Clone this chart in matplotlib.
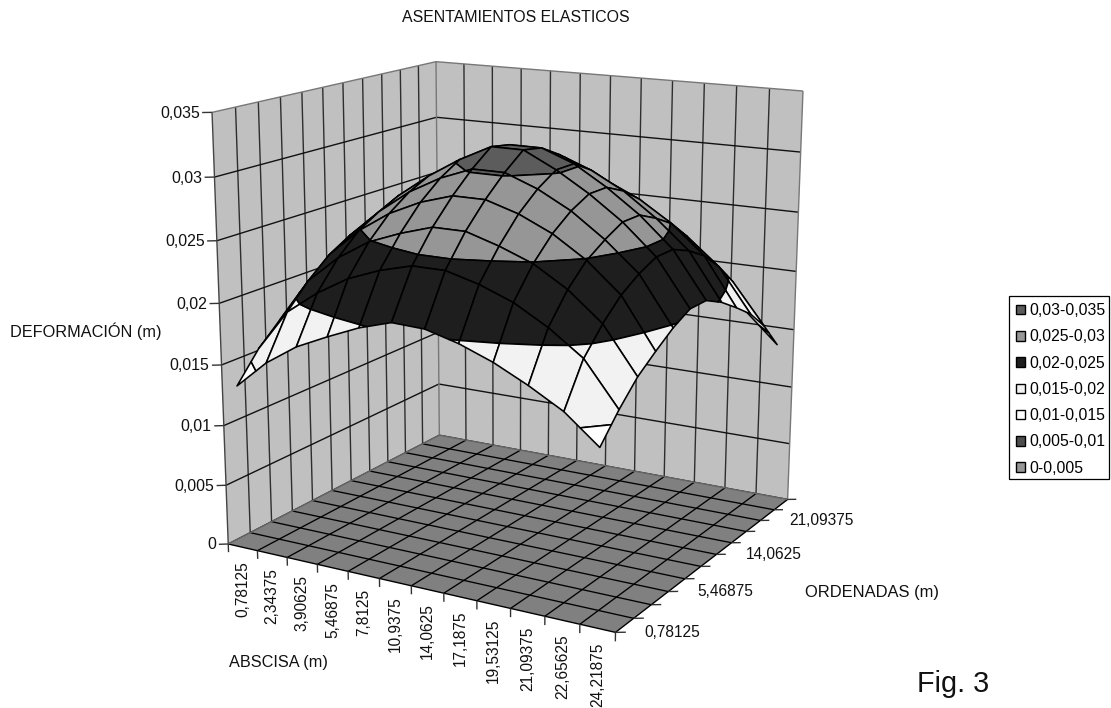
import numpy as np
import matplotlib
matplotlib.use("Agg")
import matplotlib.pyplot as plt
from matplotlib.patches import Patch, Rectangle
from mpl_toolkits.mplot3d.art3d import Poly3DCollection

plt.rcParams['font.family'] = ['Liberation Sans', 'DejaVu Sans']

W, H = 1111, 708
TITLE = "ASENTAMIENTOS ELASTICOS"
x_labels = ["0,78125", "2,34375", "3,90625", "5,46875", "7,8125", "10,9375",
            "14,0625", "17,1875", "19,53125", "21,09375", "22,65625", "24,21875"]
y_labels = ["0,78125", "5,46875", "14,0625", "21,09375"]
z_labels = ["0", "0,005", "0,01", "0,015", "0,02", "0,025", "0,03", "0,035"]
z_ticks = [0, .005, .01, .015, .02, .025, .03, .035]
band_labels = ["0,03-0,035", "0,025-0,03", "0,02-0,025", "0,015-0,02",
               "0,01-0,015", "0,005-0,01", "0-0,005"]
band_low = [.03, .025, .02, .015, .01, .005, 0]
band_high = [.035, .03, .025, .02, .015, .01, .005]
band_colors = ["#5c5c5c", "#969696", "#1e1e1e", "#f2f2f2", "#ffffff", "#4d4d4d", "#969696"]

# deformation, rows = ordenadas (front to back), columns = abscisas (left to right)
Z = np.array([
    [.0135, .0158, .0175, .0187, .0198, .0206, .0205, .0198, .0188, .0175, .0160, .0138],
    [.0158, .0192, .0211, .0226, .0236, .0243, .0243, .0236, .0226, .0211, .0192, .0158],
    [.0175, .0211, .0233, .0249, .0259, .0267, .0267, .0259, .0249, .0233, .0211, .0175],
    [.0187, .0226, .0249, .0266, .0278, .0286, .0286, .0278, .0266, .0249, .0226, .0187],
    [.0198, .0236, .0259, .0278, .0292, .0302, .0302, .0292, .0278, .0259, .0236, .0198],
    [.0206, .0243, .0267, .0286, .0302, .0315, .0315, .0302, .0286, .0267, .0243, .0206],
    [.0206, .0243, .0267, .0286, .0302, .0312, .0312, .0302, .0286, .0267, .0243, .0206],
    [.0198, .0236, .0259, .0278, .0292, .0302, .0302, .0292, .0278, .0259, .0236, .0198],
    [.0187, .0226, .0249, .0266, .0278, .0286, .0286, .0278, .0266, .0249, .0226, .0187],
    [.0175, .0211, .0233, .0249, .0259, .0267, .0267, .0259, .0249, .0233, .0211, .0175],
    [.0158, .0192, .0211, .0226, .0236, .0243, .0243, .0236, .0226, .0211, .0192, .0158],
    [.0135, .0158, .0175, .0187, .0198, .0206, .0205, .0198, .0188, .0175, .0160, .0135],
])

NX = len(x_labels)          # x categories sit between ticks
NY = len(x_labels) - 1      # y categories sit on ticks
ZMAX = z_ticks[-1]

# camera: fitted to points of the reference box (data point -> pixel)
corners = [((0, 0, 0), (228, 544)), ((NX, 0, 0), (615, 632)), ((NX, NY, 0), (788, 499)),
           ((0, NY, 0), (439, 435)), ((0, 0, ZMAX), (212, 112)), ((0, NY, ZMAX), (436, 62)),
           ((NX, NY, ZMAX), (803, 91)),
           ((NX, 3, 0), (668, 592)), ((NX, 6, 0), (717, 554)), ((NX, 9, 0), (760, 521)),
           ((3, 0, 0), (318, 564)), ((6, 0, 0), (412, 587)), ((9, 0, 0), (510, 608))]


def fit_camera(pairs):
    rows = []
    for (x, y, z), (u, v) in pairs:
        X = [x / NX, y / NY, z / ZMAX, 1]
        rows.append(X + [0, 0, 0, 0] + [-u * c for c in X])
        rows.append([0, 0, 0, 0] + X + [-v * c for c in X])
    P = np.linalg.svd(np.array(rows, float))[2][-1].reshape(3, 4)
    P = P @ np.diag([1 / NX, 1 / NY, 1 / ZMAX, 1])
    if P[2] @ np.array([NX / 2, NY / 2, 0, 1]) < 0:
        P = -P
    return P


P = fit_camera(corners)


def px(x, y, z):
    h = P @ np.array([x, y, z, 1.0])
    return h[0] / h[2], h[1] / h[2]


fig = plt.figure(figsize=(W / 100, H / 100), dpi=100, facecolor="white")
ax = fig.add_axes([0, 0, 1, 1], projection="3d", computed_zorder=False)
ax.set_axis_off()
ax.patch.set_visible(False)
ax.set_proj_type("ortho")
ax.apply_aspect()
A = ax.transData.inverted().get_matrix()
P_disp = np.vstack([P[0], H * P[2] - P[1], P[2]])
Q = A @ P_disp
M = np.vstack([Q[0], Q[1], [0, 0, 0, -1], Q[2]])
ax.get_proj = lambda: M


def line(xs, ys, zs, color="#1a1a1a", lw=1.0, zo=2):
    ax.plot(xs, ys, zs, color=color, lw=lw, zorder=zo, clip_on=False, solid_capstyle="butt")


def quad(verts, color, zo):
    c = Poly3DCollection([verts], facecolors=color, edgecolors="none", zorder=zo)
    c.set_clip_on(False)
    ax.add_collection3d(c, autolim=False)


# walls and floor
quad([(0, 0, 0), (0, NY, 0), (0, NY, ZMAX), (0, 0, ZMAX)], "#c0c0c0", 1)
quad([(0, NY, 0), (NX, NY, 0), (NX, NY, ZMAX), (0, NY, ZMAX)], "#c0c0c0", 1)
quad([(0, 0, 0), (NX, 0, 0), (NX, NY, 0), (0, NY, 0)], "#808080", 3)

for k in range(1, NY):
    line([0, 0], [k, k], [0, ZMAX], color="#2e2e2e", zo=2)
for k in range(1, NX):
    line([k, k], [NY, NY], [0, ZMAX], color="#2e2e2e", zo=2)
for z in z_ticks[:-1]:
    line([0, 0, NX], [0, NY, NY], [z, z, z], color="#111111", zo=2)
# outline of the walls
line([0, 0, NX], [0, NY, NY], [ZMAX, ZMAX, ZMAX], color="#777777", zo=2)
line([0, 0], [0, 0], [0, ZMAX], color="#444444", zo=2)
line([0, 0], [NY, NY], [0, ZMAX], color="#777777", zo=2)
line([NX, NX], [NY, NY], [0, ZMAX], color="#777777", zo=2)
for k in range(1, NX):
    line([k, k], [0, NY], [0, 0], color="black", lw=0.95, zo=4)
for k in range(1, NY):
    line([0, NX], [k, k], [0, 0], color="black", lw=0.95, zo=4)
line([0, NX, NX], [0, 0, NY], [0, 0, 0], color="black", lw=1.0, zo=4)
line([0, 0, NX], [0, NY, NY], [0, 0, 0], color="#666666", lw=1.0, zo=4)

# ticks
for k in range(NX + 1):
    line([k, k], [0, 0], [0, -0.0007], color="#333333", zo=4)
for k in range(NY + 1):
    line([NX, NX + .217], [k, k + .136], [0, 0], color="#333333", zo=4)
for z in z_ticks:
    line([0, -.21], [0, -.147], [z, z], color="#333333", zo=4)


def clip(poly, level, keep_above):
    out = []
    n = len(poly)
    for a in range(n):
        p, q = poly[a], poly[(a + 1) % n]
        pin = p[2] >= level if keep_above else p[2] <= level
        qin = q[2] >= level if keep_above else q[2] <= level
        if pin:
            out.append(p)
        if pin != qin:
            t = (level - p[2]) / (q[2] - p[2])
            out.append(tuple(p[m] + t * (q[m] - p[m]) for m in range(3)))
    return out


xv = np.arange(NX) + .5
yv = np.arange(NY + 1.0)

polys, faces = [], []
for j in range(NY):
    for i in range(NX - 1):
        cell = [(xv[i], yv[j], Z[j, i]), (xv[i + 1], yv[j], Z[j, i + 1]),
                (xv[i + 1], yv[j + 1], Z[j + 1, i + 1]), (xv[i], yv[j + 1], Z[j + 1, i])]
        for lo, hi, col in zip(band_low, band_high, band_colors):
            part = clip(cell, lo, True)
            if len(part) >= 3:
                part = clip(part, hi, False)
            if len(part) >= 3:
                polys.append(part)
                faces.append(col)
surf = Poly3DCollection(polys, facecolors=faces, edgecolors="black", linewidths=1.15, zorder=5)
surf.set_clip_on(False)
ax.add_collection3d(surf, autolim=False)


def T(xp, yp, s, **kw):
    kw.setdefault("fontsize", 11.4)
    kw.setdefault("color", "#111111")
    fig.text(xp / W, 1 - yp / H, s, **kw)


T(516, 17, TITLE, ha="center", va="center")
T(10, 331, "DEFORMACIÓN (m)", ha="left", va="center", fontsize=11.7)
T(805, 592, "ORDENADAS (m)", ha="left", va="center", fontsize=11.9)
T(229, 663, "ABSCISA (m)", ha="left", va="center", fontsize=11.7)
T(917, 692, "Fig. 3", ha="left", va="baseline", fontsize=20.8)

for i, s in enumerate(x_labels):
    u, v = px(i + .5, 0, 0)
    T(u, v + 14, s, rotation=90, ha="center", va="top", fontsize=11.2)
for j, s in zip([0, 3, 6, 9], y_labels):
    u, v = px(NX, j, 0)
    T(u + 29, v, s, ha="left", va="center", fontsize=11.2)
for z, s in zip(z_ticks, z_labels):
    u, v = px(0, 0, z)
    T(u - 12, v + 1, s, ha="right", va="center")

fig.add_artist(Rectangle((1009 / W, 1 - 479 / H), 100 / W, 183 / H, transform=fig.transFigure,
                         facecolor="white", edgecolor="black", linewidth=0.9))
handles = [Patch(facecolor=c, edgecolor="black", linewidth=1.0) for c in band_colors]
leg = fig.legend(handles, band_labels, loc="upper left",
                 bbox_to_anchor=(1016 / W, 1 - 303 / H), borderaxespad=0, borderpad=0,
                 frameon=False, fontsize=11.3, handlelength=0.56,
                 handleheight=0.56, handletextpad=0.28, labelspacing=0.72)

fig.savefig("out.png", dpi=100)
